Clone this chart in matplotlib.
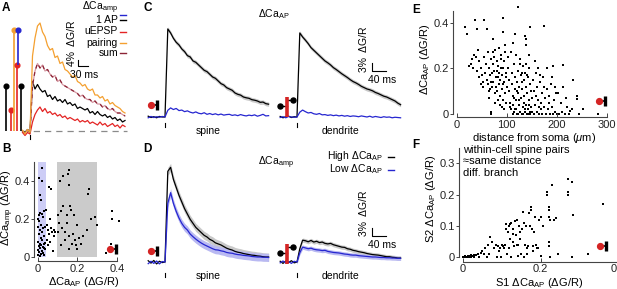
import numpy as np
import matplotlib
matplotlib.use("Agg")
import matplotlib.pyplot as plt
from matplotlib.lines import Line2D

plt.rcParams["font.family"] = ["Liberation Sans", "DejaVu Sans"]
plt.rcParams["mathtext.fontset"] = "custom"
plt.rcParams["mathtext.rm"] = "Liberation Sans"
plt.rcParams["mathtext.it"] = "Liberation Sans:italic"
plt.rcParams["font.size"] = 7.5

W, H = 617, 289

BLUE = "#2626d0"
RED = "#e42424"
ORANGE = "#f4a030"
SUM_COL = "#8c2436"
SPINE_COL = "#444444"
FS_SCAT = 8

# ---------------------------------------------------------------------------
# Panel A: single spine traces (%dG/R), sampled every 7.5 ms from -22.5 ms
# ---------------------------------------------------------------------------
A_DT, A_T0 = 7.5, -22.5
A_PAIRING = [0.5, -2, 1, -1, 50, 62, 70, 72, 66, 63, 57, 54, 55, 49, 50, 45, 46, 41, 40, 38,
             36, 37, 33, 32, 30, 31, 28, 27, 28, 24, 24, 22, 23, 20, 21, 18, 19, 17, 16, 15,
             13, 12]
A_SUM = [0, -1.5, 0.5, -1, 30, 40, 45, 42, 44, 40, 41, 38, 36, 37, 33, 34, 31, 30, 29, 28,
         27, 26, 25, 23, 24, 22, 21, 21, 19, 20, 18, 18, 16, 17, 15, 14, 15, 13, 12, 12,
         11, 10]
A_AP = [0, -1, 1, -0.5, 33, 28, 31, 28, 26, 27, 23, 24, 21, 23, 20, 21, 19, 21, 18, 19,
        17, 18, 15, 16, 15, 14, 15, 12, 13, 11, 13, 11, 10, 11, 9, 10, 8, 9, 7, 8,
        6, 7]
A_EPSP = [-1, -3, -1, -2, 6, 11, 14, 16, 13, 15, 12, 13, 11, 12, 10, 11, 9, 10, 8, 9,
          8, 7, 8, 6, 7, 6, 7, 5, 6, 5, 4, 6, 4, 5, 3, 4, 5, 3, 4, 2,
          4, 3]
# peak amplitudes (%dG/R) shown as lollipops
PEAK_AP = 30
PEAK_EPSP = 14
PEAK_PAIRING = 67

# ---------------------------------------------------------------------------
# Panels C / D: averaged traces (%dG/R), sampled every 8 ms from -48 ms
# ---------------------------------------------------------------------------
CD_DT, CD_T0 = 8, -48
C_SPINE_AP = [0.3, -0.2, 0.1, -0.3, 0.2, 0, 0,
              33, 31.5, 29.5, 28, 27, 25.5, 24.5, 23, 22.5, 21, 20.5, 19.5, 18.5, 17.5, 17, 16,
              15, 14.5, 13.5, 12.5, 12, 11, 10.5, 10, 9, 8.5, 8.2, 7.5, 7.2, 7, 6.5, 6.3, 6,
              5.5, 5.6, 5, 4.8]
C_SPINE_LOW = [-0.3, 0.2, -0.2, 0.1, -0.1, 0.2, 0,
               2.5, 3.4, 2.8, 3.2, 2.4, 2.6, 2.0, 2.3, 1.8, 1.5, 1.9, 1.4, 1.2, 1.6, 1.0, 1.3,
               0.9, 1.2, 0.8, 1.1, 0.7, 0.9, 1.0, 0.6, 0.8, 0.5, 0.9, 0.6, 0.4, 0.7, 0.5, 0.8,
               0.3, 0.6, 1.0, 0.4, 0.5]
C_DEND_AP = [0.2, -0.3, 0.1, 0.3, -0.2, 0.1, 0,
             31.5, 30, 28.8, 27.5, 26, 25, 24, 23, 22, 21, 20.3, 19.5, 18.5, 17.8, 17, 16.2,
             15.5, 14.8, 14, 13.3, 12.8, 12.2, 11.5, 11, 10.5, 10.2, 9.8, 9.2, 8.8, 8.3, 7.8,
             7.5, 7, 6.5, 6, 5.2, 4.6]
C_DEND_LOW = [-0.2, 0.1, -0.3, 0.2, 0.0, -0.1, 0,
              1.8, 2.6, 2.0, 1.5, 1.7, 1.2, 1.0, 1.3, 0.8, 0.9, 0.6, 0.8, 0.5, 0.7, 0.4, 0.6,
              0.3, 0.5, 0.2, 0.4, 0.3, 0.1, 0.4, 0.2, 0.0, 0.3, -0.1, 0.2, 0.0, -0.2, 0.1,
              -0.1, 0.0, -0.3, -0.1, -0.2, -0.3]
C_SEM = 0.8

D_SPINE_HIGH = [0.5, -0.4, 0.6, -0.7, 0.3, -0.2, 0,
                34, 35.5, 31, 28, 25, 22.5, 20, 18, 16, 14.5, 13, 12, 11, 10, 9.4, 8.5, 8, 7.2,
                6.8, 6.4, 5.8, 5.2, 4.8, 4.5, 4.0, 3.7, 3.5, 3.2, 3.0, 2.8, 2.6, 2.5, 2.3,
                2.2, 2.0, 1.9, 1.9]
D_SPINE_LOW = [-0.6, 0.3, -0.5, 0.4, -0.7, 0.2, 0,
               22, 26, 22, 19, 16.5, 14.5, 13, 12, 10.5, 9.5, 8.6, 7.8, 7.1, 6.5, 6.0, 5.5,
               5.0, 4.6, 4.5, 4.2, 4.0, 3.6, 3.4, 3.3, 3.0, 2.8, 2.7, 2.5, 2.4, 2.3, 2.1, 2.0,
               1.9, 1.9, 1.8, 1.8, 1.7]
D_DEND_HIGH = [0.3, -0.5, 0.4, -0.2, 0.5, -0.3, 0,
               5, 8.2, 8.0, 7.6, 8.1, 7.5, 7.8, 7.3, 7.5, 7.0, 6.8, 7.0, 6.5, 6.2, 5.9, 5.6,
               5.5, 5.0, 4.8, 4.4, 4.2, 3.9, 3.7, 3.5, 3.2, 3.0, 2.8, 2.7, 2.6, 2.4, 2.2,
               2.0, 2.0, 1.8, 1.7, 1.5, 1.5]
D_DEND_LOW = [-0.3, 0.4, -0.4, 0.2, -0.5, 0.3, 0,
              3.5, 5.6, 5.3, 5.0, 5.2, 4.8, 4.6, 4.5, 4.3, 4.4, 4.0, 3.8, 3.6, 3.5, 3.4, 3.2,
              3.0, 2.9, 2.7, 2.6, 2.6, 2.4, 2.3, 2.2, 2.1, 2.0, 1.9, 1.9, 1.8, 1.7, 1.7, 1.6,
              1.6, 1.5, 1.5, 1.4, 1.4]
D_SEM_SPINE = 1.5
D_SEM_DEND = 0.8

# ---------------------------------------------------------------------------
# Panel B: dCa_amp vs dCa_AP (dG/R)
# ---------------------------------------------------------------------------
B_CAAP = [0.024, 0.005, 0.022, 0.010, 0.015, 0.030, 0.012, 0.020, 0.005, 0.025,
          0.008, 0.018, 0.003, 0.028, 0.012, 0.020, 0.006, 0.032, 0.015, 0.024,
          0.002, 0.010, 0.030, 0.018, 0.006, 0.025, 0.013, 0.035, 0.004, 0.021,
          0.009, 0.028, 0.016, 0.002, 0.033, 0.012, 0.038, 0.036, 0.001, 0.034,
          0.055, 0.067, 0.060, 0.045, 0.050, 0.065, 0.055, 0.070, 0.080, 0.085,
          0.045, 0.060, 0.075, 0.050, 0.090, 0.042,
          0.160, 0.155, 0.130, 0.115, 0.160, 0.260, 0.255, 0.120, 0.130, 0.105,
          0.165, 0.170, 0.290, 0.200, 0.300, 0.250, 0.160, 0.160, 0.200, 0.110,
          0.125, 0.140, 0.150, 0.180, 0.190, 0.210, 0.220, 0.230, 0.140, 0.120,
          0.175, 0.195, 0.270, 0.105, 0.150, 0.185,
          0.374, 0.374, 0.410, 0.370, 0.345]
B_CAAMP = [0.47, 0.42, 0.40, 0.325, 0.30, 0.24, 0.23, 0.225, 0.22, 0.21,
           0.19, 0.17, 0.155, 0.15, 0.14, 0.13, 0.12, 0.11, 0.10, 0.09,
           0.08, 0.07, 0.065, 0.06, 0.055, 0.05, 0.045, 0.04, 0.035, 0.03,
           0.025, 0.02, 0.015, 0.01, 0.008, 0.005, 0.075, 0.16, 0.20, 0.045,
           0.37, 0.36, 0.20, 0.17, 0.14, 0.15, 0.12, 0.13, 0.14, 0.11,
           0.09, 0.08, 0.03, 0.06, 0.13, 0.25,
           0.46, 0.44, 0.43, 0.40, 0.38, 0.36, 0.33, 0.24, 0.27, 0.22,
           0.27, 0.25, 0.21, 0.17, 0.17, 0.14, 0.11, 0.04, 0.04, 0.18,
           0.15, 0.13, 0.18, 0.12, 0.09, 0.10, 0.07, 0.11, 0.09, 0.06,
           0.07, 0.06, 0.20, 0.13, 0.22, 0.22,
           0.245, 0.20, 0.19, 0.07, 0.017]
B_LOW_BAND = (0.0, 0.04)
B_MID_BAND = (0.1, 0.3)
B_BAND_TOP = 0.5

# ---------------------------------------------------------------------------
# Panel E: dCa_AP vs distance from soma
# ---------------------------------------------------------------------------
E_DIST = [16, 21, 36, 40, 55, 61, 73, 92, 93, 123, 117, 137, 139, 147, 175, 113, 139, 96, 84, 76,
          25, 28, 32, 30, 35, 38, 42, 40, 45, 48, 44, 50, 52, 55, 58, 57, 60, 53, 48, 62,
          64, 66, 68, 70, 72, 74, 75, 78, 80, 82, 84, 85, 86, 88, 90, 90, 92, 93, 95, 96,
          98, 99, 100, 97, 94, 89, 87, 83, 79, 77, 73, 71, 69, 67, 65, 63, 81, 91, 95, 87,
          68, 68, 76, 83, 92, 99, 88, 80, 72, 64,
          102, 104, 105, 106, 108, 110, 111, 112, 113, 114, 115, 116, 117, 118, 119, 120, 121, 122, 123, 124,
          125, 126, 127, 128, 129, 130, 131, 132, 133, 134, 135, 136, 137, 138, 139, 140, 141, 142, 143, 144,
          145, 146, 147, 148, 149, 150, 103, 109, 118, 126, 131, 138, 144, 107, 112, 117, 122, 127, 132, 137,
          142, 147, 115, 125, 135, 145, 120, 130, 140, 150,
          152, 154, 155, 157, 158, 160, 161, 163, 165, 166, 168, 170, 171, 173, 175, 176, 178, 180, 182, 184,
          186, 188, 190, 192, 193, 195, 197, 199, 200, 162, 156, 167, 174, 181, 185, 191, 196, 159, 164, 169,
          203, 205, 208, 210, 213, 216, 220, 225, 227, 230, 233, 240, 240, 245, 253, 283, 212, 218]
E_CAAP = [0.38, 0.35, 0.41, 0.37, 0.41, 0.37, 0.33, 0.42, 0.36, 0.47, 0.35, 0.34, 0.33, 0.38, 0.385, 0.31, 0.30, 0.30, 0.29, 0.28,
          0.21, 0.22, 0.20, 0.24, 0.26, 0.25, 0.28, 0.19, 0.23, 0.20, 0.16, 0.17, 0.14, 0.25, 0.22, 0.18, 0.15, 0.12, 0.13, 0.27,
          0.20, 0.17, 0.14, 0.12, 0.22, 0.19, 0.25, 0.16, 0.10, 0.21, 0.18, 0.13, 0.08, 0.24, 0.17, 0.11, 0.06, 0.20, 0.14, 0.09,
          0.18, 0.05, 0.12, 0.27, 0.23, 0.26, 0.15, 0.06, 0.12, 0.09, 0.14, 0.18, 0.24, 0.11, 0.07, 0.13, 0.19, 0.03, 0.02, 0.04,
          0.01, 0.00, 0.05, 0.16, 0.13, 0.16, 0.20, 0.23, 0.27, 0.10,
          0.20, 0.15, 0.10, 0.05, 0.02, 0.18, 0.13, 0.08, 0.04, 0.01, 0.22, 0.16, 0.11, 0.06, 0.02, 0.00, 0.14, 0.09, 0.19, 0.04,
          0.12, 0.01, 0.24, 0.17, 0.07, 0.00, 0.11, 0.03, 0.21, 0.15, 0.08, 0.01, 0.18, 0.04, 0.12, 0.00, 0.09, 0.02, 0.16, 0.06,
          0.20, 0.00, 0.13, 0.03, 0.10, 0.01, 0.25, 0.27, 0.26, 0.22, 0.18, 0.22, 0.26, 0.03, 0.00, 0.02, 0.00, 0.01, 0.00, 0.02,
          0.00, 0.01, 0.07, 0.06, 0.05, 0.04, 0.10, 0.14, 0.17, 0.07,
          0.15, 0.00, 0.10, 0.04, 0.18, 0.01, 0.12, 0.06, 0.00, 0.14, 0.02, 0.09, 0.00, 0.16, 0.03, 0.07, 0.00, 0.11, 0.02, 0.05,
          0.00, 0.13, 0.03, 0.00, 0.21, 0.06, 0.01, 0.09, 0.00, 0.20, 0.23, 0.17, 0.12, 0.20, 0.08, 0.16, 0.12, 0.08, 0.03, 0.05,
          0.09, 0.00, 0.05, 0.01, 0.215, 0.00, 0.03, 0.00, 0.015, 0.02, 0.15, 0.08, 0.065, 0.00, 0.02, 0.00, 0.12, 0.07]

# ---------------------------------------------------------------------------
# Panel F: spine pairs, S2 vs S1 dCa_AP
# ---------------------------------------------------------------------------
F_S1 = [0.000, 0.004, 0.008, 0.012, 0.016, 0.020, 0.024, 0.028, 0.006, 0.014,
        0.018, 0.022, 0.026, 0.030, 0.034, 0.038, 0.042, 0.046, 0.050, 0.054,
        0.058, 0.062, 0.066, 0.068, 0.070,
        0.075, 0.080, 0.085, 0.090, 0.095, 0.098, 0.100, 0.103, 0.107, 0.110,
        0.112, 0.114, 0.115, 0.118, 0.120, 0.122, 0.124, 0.125, 0.128, 0.130,
        0.132, 0.135, 0.137, 0.140, 0.141, 0.143, 0.145, 0.148, 0.150, 0.152,
        0.155, 0.157, 0.158, 0.160, 0.162, 0.164, 0.166, 0.168, 0.170, 0.172,
        0.175, 0.176, 0.178, 0.180, 0.181, 0.183, 0.185, 0.190, 0.195, 0.200,
        0.205, 0.200, 0.188, 0.138, 0.128, 0.146, 0.118, 0.108, 0.093, 0.088,
        0.215, 0.215, 0.220, 0.220, 0.221, 0.225, 0.228, 0.235, 0.240, 0.270,
        0.270, 0.271, 0.280, 0.282, 0.360,
        0.220, 0.221, 0.225, 0.245, 0.280, 0.320, 0.192]
F_S2 = [0.000, 0.001, 0.000, 0.002, 0.000, 0.001, 0.003, 0.000, 0.004, 0.005,
        0.003, 0.006, 0.004, 0.008, 0.006, 0.012, 0.000, 0.015, 0.020, 0.010,
        0.030, 0.000, 0.040, 0.012, 0.065,
        0.050, 0.030, 0.040, 0.035, 0.030, 0.000, 0.040, 0.035, 0.030, 0.090,
        0.105, 0.010, 0.080, 0.100, 0.105, 0.060, 0.000, 0.110, 0.050, 0.090,
        0.035, 0.115, 0.070, 0.120, 0.005, 0.040, 0.100, 0.080, 0.010, 0.090,
        0.145, 0.110, 0.000, 0.040, 0.100, 0.030, 0.010, 0.035, 0.140, 0.100,
        0.160, 0.150, 0.090, 0.035, 0.020, 0.080, 0.130, 0.030, 0.120, 0.130,
        0.100, 0.005, 0.040, 0.040, 0.075, 0.060, 0.030, 0.040, 0.020, 0.000,
        0.210, 0.200, 0.160, 0.150, 0.130, 0.120, 0.230, 0.120, 0.125, 0.250,
        0.210, 0.200, 0.240, 0.135, 0.170,
        0.050, 0.035, 0.000, 0.010, 0.000, 0.010, 0.030]


# ---------------------------------------------------------------------------
# helpers (all layout in figure pixels, y from top)
# ---------------------------------------------------------------------------
fig = plt.figure(figsize=(W / 100, H / 100), dpi=100)


def px_axes(x0, y0, x1, y1):
    return fig.add_axes([x0 / W, 1 - y1 / H, (x1 - x0) / W, (y1 - y0) / H])


def ftext(x, y, s, **kw):
    fig.text(x / W, 1 - y / H, s, **kw)


def fline(xs, ys, **kw):
    fig.add_artist(Line2D([x / W for x in xs], [1 - y / H for y in ys],
                          transform=fig.transFigure, **kw))


def fdot(x, y, color, ms=3.6):
    fline([x], [y], marker="o", ms=ms, mfc=color, mec=color, lw=0)


def spine_icon(x, y):
    fline([x, x + 6], [y, y], color="k", lw=1.2)
    fline([x + 6, x + 6], [y - 5, y + 5], color="k", lw=2.4, solid_capstyle="butt")
    fdot(x, y, "#d42424", ms=4.2)


def dendrite_icon(x, y):
    fline([x, x + 7], [y, y], color="k", lw=1.0)
    fline([x + 7, x + 13], [y - 6, y - 6], color="k", lw=1.0)
    fline([x + 7, x + 7], [y - 9, y + 11], color="#d42424", lw=2.6, solid_capstyle="butt")
    fdot(x, y, "k")
    fdot(x + 13, y - 6, "k")


def scatter_style(ax, xticks, xlabels, yticks, ylabels, xbound, ybound, out_l, out_b,
                  xpad=2):
    for sp in ("top", "right"):
        ax.spines[sp].set_visible(False)
    ax.spines["left"].set_position(("outward", out_l))
    ax.spines["bottom"].set_position(("outward", out_b))
    ax.spines["left"].set_bounds(*ybound)
    ax.spines["bottom"].set_bounds(*xbound)
    for sp in ("left", "bottom"):
        ax.spines[sp].set_color(SPINE_COL)
        ax.spines[sp].set_linewidth(0.8)
    ax.set_xticks(xticks)
    ax.set_xticklabels(xlabels)
    ax.set_yticks(yticks)
    ax.set_yticklabels(ylabels)
    ax.tick_params(axis="x", direction="in", length=3, width=0.7, pad=xpad, colors=SPINE_COL,
                   labelcolor="#222222", labelsize=FS_SCAT)
    ax.tick_params(axis="y", direction="out", length=2, width=0.7, pad=1, colors=SPINE_COL,
                   labelcolor="#222222", labelsize=FS_SCAT)
    ax.patch.set_alpha(0)


def trace_t(values, t0, dt):
    return t0 + dt * np.arange(len(values))


# ---------------------------------------------------------------------------
# Panel A
# ---------------------------------------------------------------------------
axA = px_axes(20, 0, 130, 140)
axA.set_xlim(-30, 300)
axA.set_ylim(-6, 87.33)
axA.axis("off")
tA = trace_t(A_PAIRING, A_T0, A_DT)
axA.plot([-24, 291], [0, 0], color="#8a8a8a", lw=0.9, dashes=(5, 4))
axA.plot(tA, A_EPSP, color=RED, lw=0.9)
axA.plot(tA, A_AP, color="k", lw=0.9)
axA.plot(tA, A_SUM, color="#d79aa4", lw=0.9)
axA.plot(tA, A_SUM, color=SUM_COL, lw=0.9, dashes=(3, 3))
axA.plot(tA, A_PAIRING, color=ORANGE, lw=0.9)
axA.plot([0, 0], [-2.5, -5.5], color="k", lw=0.8, clip_on=False)
# scale bar: 4 % / 30 ms
axA.plot([144, 144, 174], [47.3, 43.3, 43.3], color="k", lw=0.8)
axA.text(141, 43.3, "4%  \u0394G/R", rotation=90, ha="right", va="bottom", fontsize=7.5)
axA.text(162, 40.5, "30 ms", ha="center", va="top", fontsize=7.5)

axL = px_axes(0, 0, 27, 140)
axL.set_xlim(0, 27)
axL.set_ylim(-6, 87.33)
axL.axis("off")
lolli = [(6, 0, PEAK_AP, "k"),
         (11, 0, PEAK_EPSP, RED),
         (14, 0, PEAK_PAIRING, ORANGE),
         (17, 0, PEAK_AP + PEAK_EPSP, RED),
         (18.3, PEAK_AP + PEAK_EPSP, PEAK_PAIRING, BLUE),
         (20.5, 0, PEAK_AP, "k")]
for x, y0, y1, c in lolli:
    axL.plot([x, x], [y0, y1], color=c, lw=1.2, solid_capstyle="butt")
    axL.plot([x], [y1], marker="o", ms=3.4, color=c, lw=0, clip_on=False)

legA = [("\u0394Ca$_{\\rm amp}$", BLUE, 7.5, 14.5),
        ("1 AP", "k", 20, 20),
        ("uEPSP", RED, 31.5, 31.5),
        ("pairing", ORANGE, 42.5, 42.5),
        ("sum", SUM_COL, 53, 53)]
for label, col, ty, ly in legA:
    ftext(118, ty, label, ha="right", va="center", fontsize=7.5)
    fline([120, 126], [ly, ly], color=col, lw=1.0)

# ---------------------------------------------------------------------------
# Panels C and D
# ---------------------------------------------------------------------------
tC = trace_t(C_SPINE_AP, CD_T0, CD_DT)


def trace_pair(box, xlim, ylim, high, low, sem_hi, sem_lo, tick_y):
    ax = px_axes(*box)
    ax.set_xlim(*xlim)
    ax.set_ylim(*ylim)
    ax.axis("off")
    hi = np.array(high)
    lo = np.array(low)
    if sem_hi:
        ax.fill_between(tC[6:], hi[6:] - sem_hi, hi[6:] + sem_hi, color="#c9c9c9", lw=0)
    if sem_lo:
        ax.fill_between(tC[6:], lo[6:] - sem_lo, lo[6:] + sem_lo, color="#b9b9f2", lw=0)
    ax.plot(tC, hi, color="k", lw=0.9)
    ax.plot(tC, lo, color=BLUE, lw=0.9)
    ax.plot([0, 0], tick_y, color="k", lw=0.8, clip_on=False)
    return ax


ylimC = (-7.5, 40.1)
axCs = trace_pair((140, 10, 272, 137), (-71.4, 305.7), ylimC, C_SPINE_AP, C_SPINE_LOW,
                  C_SEM, 0, (-2.3, -3.8))
axCd = trace_pair((272, 10, 410, 137), (-71.4, 322.9), ylimC, C_DEND_AP, C_DEND_LOW,
                  C_SEM, 0, (-2.3, -3.8))
axCd.plot([214.3, 214.3, 254.3], [20.25, 17.25, 17.25], color="k", lw=0.8)
axCd.text(207, 17.0, "3%  \u0394G/R", rotation=90, ha="right", va="bottom", fontsize=7.5)
axCd.text(242, 15.8, "40 ms", ha="center", va="top", fontsize=7.5)

ylimD = (-8.6, 45.75)
axDs = trace_pair((140, 140, 272, 285), (-71.4, 305.7), ylimD, D_SPINE_HIGH, D_SPINE_LOW,
                  D_SEM_SPINE, D_SEM_SPINE, (-4.1, -5.6))
axDd = trace_pair((272, 140, 410, 285), (-71.4, 322.9), ylimD, D_DEND_HIGH, D_DEND_LOW,
                  D_SEM_DEND, D_SEM_DEND, (-4.1, -5.6))
axDd.plot([214.3, 214.3, 254.3], [12.75, 9.75, 9.75], color="k", lw=0.8)
axDd.text(207, 9.6, "3%  \u0394G/R", rotation=90, ha="right", va="bottom", fontsize=7.5)
axDd.text(242, 8.4, "40 ms", ha="center", va="top", fontsize=7.5)

ftext(274, 14, "\u0394Ca$_{\\rm AP}$", ha="center", va="center", fontsize=7.5)
ftext(276, 163, "\u0394Ca$_{\\rm amp}$", ha="center", va="center", fontsize=7.5)
ftext(383, 156, "High \u0394Ca$_{\\rm AP}$", ha="right", va="center", fontsize=7.5)
fline([388, 394], [157, 157], color="k", lw=1.0)
ftext(383, 169, "Low \u0394Ca$_{\\rm AP}$", ha="right", va="center", fontsize=7.5)
fline([388, 394], [170, 170], color=BLUE, lw=1.0)

for y in (131, 276):
    ftext(208, y, "spine", ha="center", va="center", fontsize=7.5)
    ftext(340, y, "dendrite", ha="center", va="center", fontsize=7.5)

spine_icon(151, 105)
spine_icon(151, 250.5)
dendrite_icon(280, 106)
dendrite_icon(280, 253)

# ---------------------------------------------------------------------------
# Panel B
# ---------------------------------------------------------------------------
axB = px_axes(37.7, 150, 130, 256.7)
axB.set_xlim(0, 0.467)
axB.set_ylim(0, 0.566)
axB.fill_between(B_LOW_BAND, 0, B_BAND_TOP, color="#cdcdf6", lw=0)
axB.fill_between(B_MID_BAND, 0, B_BAND_TOP, color="#cbcbcb", lw=0)
axB.scatter(B_CAAP, B_CAAMP, s=2.2, marker="s", color="k", lw=0, clip_on=False)
scatter_style(axB, [0, 0.2, 0.4], ["0", "0.2", "0.4"], [0, 0.2, 0.4], ["0", "0.2", "0.4"],
              (0, 0.4), (0, 0.5), 2.7, 3.0)
axB.set_xlabel("\u0394Ca$_{\\rm AP}$ (\u0394G/R)", fontsize=FS_SCAT, labelpad=1)
axB.set_ylabel("\u0394Ca$_{\\rm amp}$ (\u0394G/R)", fontsize=FS_SCAT)
axB.yaxis.set_label_coords(-0.24, 0.46)
spine_icon(110, 248.7)

# ---------------------------------------------------------------------------
# Panel E
# ---------------------------------------------------------------------------
axE = px_axes(456.7, 4.3, 611.7, 114)
axE.set_xlim(0, 310)
axE.set_ylim(0, 0.48)
axE.scatter(E_DIST, E_CAAP, s=2.2, marker="s", color="k", lw=0, clip_on=False)
scatter_style(axE, [0, 100, 200, 300], ["0", "100", "200", "300"], [0, 0.2, 0.4],
              ["0", "0.2", "0.4"], (0, 300), (0, 0.45), 2.4, 2.2)
axE.set_xlabel("distance from soma ($\\mu$m)", fontsize=FS_SCAT, labelpad=0.5)
axE.set_ylabel("\u0394Ca$_{\\rm AP}$ (\u0394G/R)", fontsize=FS_SCAT, labelpad=1)
spine_icon(599.3, 101)

# ---------------------------------------------------------------------------
# Panel F
# ---------------------------------------------------------------------------
axF = px_axes(462.7, 139.9, 622.6, 257.3)
axF.set_xlim(0, 0.41)
axF.set_ylim(0, 0.375)
axF.scatter(F_S1, F_S2, s=2.2, marker="s", color="k", lw=0, clip_on=False)
scatter_style(axF, [0, 0.2, 0.4], ["0", "0.2", "0.4"], [0, 0.1, 0.2, 0.3],
              ["0", "0.1", "0.2", "0.3"], (0, 0.41), (0, 0.35), 2.7, 3.6, xpad=1)
axF.set_xlabel("S1 \u0394Ca$_{\\rm AP}$ (\u0394G/R)", fontsize=FS_SCAT)
axF.xaxis.set_label_coords(0.48, -0.158)
axF.set_ylabel("S2 \u0394Ca$_{\\rm AP}$ (\u0394G/R)", fontsize=FS_SCAT, labelpad=1)
ftext(463, 150, "within-cell spine pairs", ha="left", va="center", fontsize=FS_SCAT)
ftext(463, 161.5, "\u2248same distance", ha="left", va="center", fontsize=FS_SCAT)
ftext(463, 173, "diff. branch", ha="left", va="center", fontsize=FS_SCAT)
spine_icon(600, 246)

# panel letters
for letter, x, y in [("A", 2, 8), ("B", 2, 149), ("C", 144, 8), ("D", 143, 149),
                     ("E", 412, 10), ("F", 412, 145)]:
    ftext(x, y, letter, ha="left", va="center", fontsize=8.5, fontweight="bold")

fig.savefig("out.png", dpi=100)
